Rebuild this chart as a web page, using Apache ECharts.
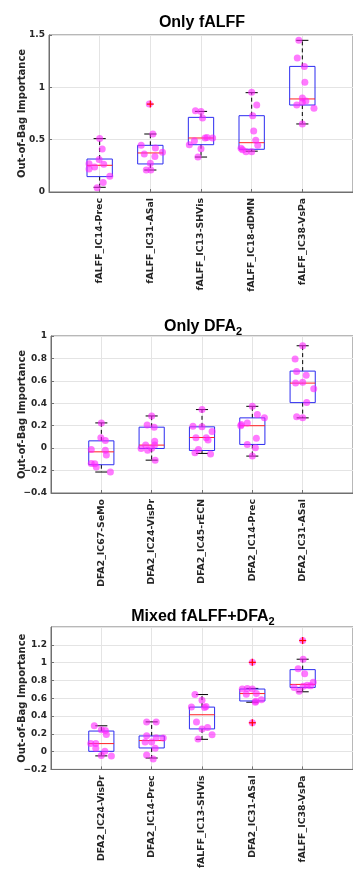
<!DOCTYPE html>
<html>
<head>
<meta charset="utf-8">
<script src="https://cdn.jsdelivr.net/npm/echarts@6/dist/echarts.min.js"></script>
<style>
  html, body { margin: 0; padding: 0; background: #fff; }
  #chart { width: 353px; height: 871px; }
</style>
</head>
<body>
<div id="chart"></div>
<script>
// ---- data ----
// boxes: [lower whisker, q1, median, q3, upper whisker]
// points: [x jitter, value] per category
const cats1 = ['fALFF_IC14-Prec', 'fALFF_IC31-ASal', 'fALFF_IC13-SHVis', 'fALFF_IC18-dDMN', 'fALFF_IC38-VsPa'];
const boxes1 = [
  [0.045, 0.147, 0.255, 0.315, 0.51],
  [0.21, 0.268, 0.373, 0.446, 0.554],
  [0.334, 0.452, 0.516, 0.713, 0.77],
  [0.39, 0.408, 0.471, 0.729, 0.949],
  [0.65, 0.831, 0.889, 1.2, 1.449]
];
const outliers1 = [[2, 0.84]];
const points1 = [
  [[0, 0.51], [0.05, 0.41], [-0.01, 0.31], [-0.21, 0.27], [-0.1, 0.24], [-0.21, 0.22], [0.08, 0.265], [0.2, 0.15], [0.07, 0.09], [-0.05, 0.04]],
  [[-0.02, 0.84], [0.05, 0.554], [-0.18, 0.446], [0.1, 0.42], [-0.12, 0.363], [0.09, 0.34], [0.24, 0.38], [0, 0.274], [-0.08, 0.21], [0.01, 0.21]],
  [[-0.11, 0.777], [0, 0.77], [0.03, 0.707], [-0.23, 0.452], [-0.13, 0.49], [0.08, 0.516], [0.23, 0.516], [0, 0.414], [-0.06, 0.334], [0.12, 0.52]],
  [[0, 0.952], [0.1, 0.831], [0.02, 0.729], [0.04, 0.583], [0.08, 0.494], [0.12, 0.446], [-0.21, 0.417], [-0.11, 0.385], [0, 0.385], [-0.18, 0.404]],
  [[-0.07, 1.449], [-0.1, 1.28], [0.04, 1.2], [0.05, 1.048], [0, 0.898], [0.07, 0.87], [0, 0.857], [-0.11, 0.831], [0.23, 0.8], [0, 0.65]]
];

const cats2 = ['DFA2_IC67-SeMo', 'DFA2_IC24-VisPr', 'DFA2_IC45-rECN', 'DFA2_IC14-Prec', 'DFA2_IC31-ASal'];
const boxes2 = [
  [-0.213, -0.148, -0.033, 0.065, 0.225],
  [-0.107, -0.003, 0.027, 0.187, 0.287],
  [-0.047, -0.021, 0.095, 0.19, 0.344],
  [-0.071, 0.033, 0.2, 0.27, 0.373],
  [0.27, 0.406, 0.58, 0.687, 0.913]
];
const outliers2 = [];
const points2 = [
  [[0, 0.225], [-0.01, 0.092], [0.08, 0.068], [-0.2, -0.012], [0.08, -0.018], [0.1, -0.062], [-0.2, -0.136], [-0.13, -0.139], [-0.1, -0.169], [0.18, -0.213]],
  [[0, 0.287], [-0.09, 0.207], [0.05, 0.187], [0.06, 0.062], [0.06, 0.027], [-0.12, 0.027], [-0.21, -0.003], [-0.08, -0.018], [0, 0], [0.07, -0.107]],
  [[0, 0.344], [-0.18, 0.196], [0, 0.19], [0.2, 0.148], [-0.12, 0.092], [0.085, 0.092], [0.12, 0.072], [-0.07, -0.012], [-0.14, -0.041], [0.17, -0.052]],
  [[0, 0.373], [0.1, 0.3], [0.24, 0.27], [-0.1, 0.225], [-0.22, 0.21], [-0.23, 0.2], [0.08, 0.089], [-0.1, 0.033], [0.06, 0.003], [0, -0.071]],
  [[0, 0.913], [-0.15, 0.794], [-0.12, 0.684], [0.07, 0.649], [-0.14, 0.58], [0, 0.587], [0.22, 0.53], [0.08, 0.406], [-0.12, 0.279], [0, 0.27]]
];

const cats3 = ['DFA2_IC24-VisPr', 'DFA2_IC14-Prec', 'fALFF_IC13-SHVis', 'DFA2_IC31-ASal', 'fALFF_IC38-VsPa'];
const boxes3 = [
  [-0.048, 0.003, 0.09, 0.231, 0.29],
  [-0.072, 0.041, 0.124, 0.176, 0.334],
  [0.138, 0.255, 0.414, 0.5, 0.641],
  [0.555, 0.569, 0.652, 0.703, 0.71],
  [0.672, 0.721, 0.755, 0.921, 1.038]
];
const outliers3 = [[4, 1.003], [4, 0.324], [5, 1.248]];
const points3 = [
  [[-0.14, 0.29], [0, 0.245], [0.08, 0.238], [0.1, 0.193], [-0.21, 0.09], [-0.11, 0.09], [-0.11, 0.038], [0.07, 0.003], [0, -0.045], [0.2, -0.048]],
  [[-0.1, 0.334], [0.09, 0.334], [-0.1, 0.179], [0.09, 0.155], [0.23, 0.152], [-0.13, 0.107], [0, 0.107], [0.07, 0.038], [-0.1, -0.038], [0.03, -0.083]],
  [[-0.14, 0.641], [0, 0.576], [-0.21, 0.5], [0.08, 0.507], [-0.11, 0.334], [0.11, 0.272], [0, 0.255], [-0.08, 0.141], [0.2, 0.19], [0.05, 0.495]],
  [[0, 1.003], [-0.1, 0.71], [-0.2, 0.703], [0, 0.703], [0.08, 0.652], [-0.12, 0.645], [0.18, 0.583], [0.07, 0.565], [0.06, 0.555], [0, 0.324]],
  [[0, 1.248], [0.01, 1.038], [-0.09, 0.93], [0.04, 0.876], [0.21, 0.779], [0.09, 0.745], [0.01, 0.734], [-0.17, 0.721], [-0.07, 0.679], [0.16, 0.74]]
];

const yRanges = [[0, 1.5, 0.5], [-0.4, 1, 0.2], [-0.2, 1.4, 0.2]];

// ---- chart ----
const chart = echarts.init(document.getElementById('chart'));
const tickFont = 'DejaVu Sans';
const titleFont = 'Liberation Sans';

function renderBox(params, api) {
  const x = api.value(0);
  const lo = api.coord([x, api.value(1)]);
  const q1 = api.coord([x, api.value(2)]);
  const md = api.coord([x, api.value(3)]);
  const q3 = api.coord([x, api.value(4)]);
  const hi = api.coord([x, api.value(5)]);
  const hw = api.size([0.25, 0])[0];
  const cw = api.size([0.12, 0])[0];
  const cx = q1[0];
  const black = { stroke: '#000', lineWidth: 1 };
  const dashed = { stroke: '#000', lineWidth: 1, lineDash: [4, 3] };
  return {
    type: 'group',
    children: [
      { type: 'line', shape: { x1: cx, y1: q3[1], x2: cx, y2: hi[1] }, style: dashed },
      { type: 'line', shape: { x1: cx, y1: q1[1], x2: cx, y2: lo[1] }, style: dashed },
      { type: 'line', shape: { x1: cx - cw, y1: hi[1], x2: cx + cw, y2: hi[1] }, style: black },
      { type: 'line', shape: { x1: cx - cw, y1: lo[1], x2: cx + cw, y2: lo[1] }, style: black },
      { type: 'rect', shape: { x: cx - hw, y: q3[1], width: hw * 2, height: q1[1] - q3[1] },
        style: { fill: 'none', stroke: '#2b2bf0', lineWidth: 1 } },
      { type: 'line', shape: { x1: cx - hw, y1: md[1], x2: cx + hw, y2: md[1] },
        style: { stroke: '#ff2020', lineWidth: 1 } }
    ]
  };
}

function renderPlus(params, api) {
  const p = api.coord([api.value(0), api.value(1)]);
  const r = 3.5;
  return {
    type: 'group',
    children: [
      { type: 'line', shape: { x1: p[0] - r, y1: p[1], x2: p[0] + r, y2: p[1] }, style: { stroke: '#ff0000', lineWidth: 1.2 } },
      { type: 'line', shape: { x1: p[0], y1: p[1] - r, x2: p[0], y2: p[1] + r }, style: { stroke: '#ff0000', lineWidth: 1.2 } }
    ]
  };
}

const grids = [
  { left: 49, top: 35, width: 306, height: 157 },
  { left: 51, top: 336, width: 304, height: 157 },
  { left: 51, top: 627, width: 304, height: 154 }
];
const allCats = [cats1, cats2, cats3];
const allBoxes = [boxes1, boxes2, boxes3];
const allOut = [outliers1, outliers2, outliers3];
const allPts = [points1, points2, points3];

const option = {
  animation: false,
  backgroundColor: '#fff',
  title: [
    { text: 'Only fALFF', left: 202, top: 13 },
    { text: 'Only DFA{s|2}', left: 203, top: 317 },
    { text: 'Mixed fALFF+DFA{s|2}', left: 203, top: 607 }
  ].map(t => Object.assign(t, {
    textAlign: 'center',
    padding: 0,
    textStyle: {
      fontFamily: titleFont, fontSize: 16, fontWeight: 'bold', color: '#000', lineHeight: 20,
      rich: { s: { fontFamily: titleFont, fontSize: 11, fontWeight: 'bold', color: '#000', verticalAlign: 'bottom', lineHeight: 10 } }
    }
  })),
  grid: grids.map(g => Object.assign({ show: true, borderColor: '#707070', borderWidth: 1, backgroundColor: '#fff' }, g)),
  xAxis: allCats.map((cats, i) => ({
    type: 'value', gridIndex: i, min: 0, max: 6, interval: 1,
    axisLine: { show: true, onZero: false, lineStyle: { color: '#707070' } },
    axisTick: { show: true, inside: true, length: 3, lineStyle: { color: '#707070' } },
    splitLine: { show: true, lineStyle: { color: '#e4e4e4' } },
    axisLabel: {
      rotate: 90, margin: 6, fontFamily: tickFont, fontSize: 9.4, fontWeight: 'bold', color: '#262626',
      formatter: v => cats[v - 1] || ''
    }
  })),
  yAxis: yRanges.map((r, i) => ({
    type: 'value', gridIndex: i, min: r[0], max: r[1], interval: r[2],
    name: 'Out-of-Bag Importance', nameLocation: 'middle', nameRotate: 90,
    nameGap: i === 0 ? 22 : 24, nameMoveOverlap: false,
    nameTextStyle: { fontFamily: tickFont, fontSize: 10, fontWeight: 'bold', color: '#262626' },
    axisLine: { show: true, onZero: false, lineStyle: { color: '#707070' } },
    axisTick: { show: true, inside: true, length: 3, lineStyle: { color: '#707070' } },
    splitLine: { show: true, lineStyle: { color: '#e4e4e4' } },
    axisLabel: {
      margin: 4, fontFamily: tickFont, fontSize: 9, fontWeight: 'bold', color: '#262626',
      showMaxLabel: i !== 2,
      formatter: v => String(+v.toFixed(2)).replace('-', '\u2212')
    }
  })),
  series: []
};

for (let i = 0; i < 3; i++) {
  option.series.push({
    type: 'custom', xAxisIndex: i, yAxisIndex: i, z: 2,
    renderItem: renderBox,
    data: allBoxes[i].map((b, k) => [k + 1].concat(b))
  });
  const pts = [];
  allPts[i].forEach((grp, k) => grp.forEach(p => pts.push([k + 1 + p[0], p[1]])));
  option.series.push({
    type: 'scatter', xAxisIndex: i, yAxisIndex: i, z: 3,
    symbolSize: 7,
    itemStyle: { color: '#ff22ff', opacity: 0.6 },
    data: pts
  });
  option.series.push({
    type: 'custom', xAxisIndex: i, yAxisIndex: i, z: 4,
    renderItem: renderPlus,
    data: allOut[i]
  });
}

chart.setOption(option);
</script>
</body>
</html>
